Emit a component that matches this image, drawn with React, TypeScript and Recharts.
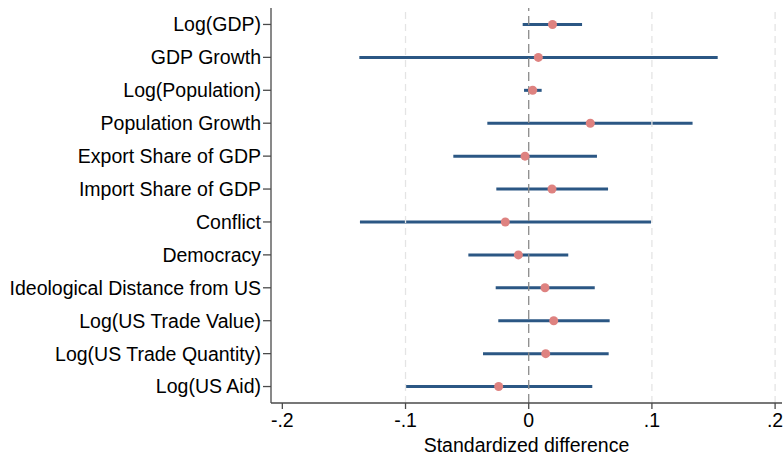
import {
  ComposedChart, XAxis, YAxis, Bar, Line, ReferenceLine,
} from 'recharts'

// covariates, top to bottom
const covariates = [
  'Log(GDP)',
  'GDP Growth',
  'Log(Population)',
  'Population Growth',
  'Export Share of GDP',
  'Import Share of GDP',
  'Conflict',
  'Democracy',
  'Ideological Distance from US',
  'Log(US Trade Value)',
  'Log(US Trade Quantity)',
  'Log(US Aid)',
]

// point estimates and 95% interval bounds
const estimates = [0.0193, 0.0078, 0.0032, 0.05, -0.003, 0.0189, -0.019, -0.0084, 0.0132, 0.0203, 0.0138, -0.0244]
const lower = [-0.0049, -0.1375, -0.0038, -0.0336, -0.0612, -0.0263, -0.137, -0.049, -0.0268, -0.0247, -0.0371, -0.1004]
const upper = [0.0433, 0.1534, 0.0105, 0.133, 0.0554, 0.0644, 0.0993, 0.0321, 0.0536, 0.0657, 0.0649, 0.0516]

const xTicks = [-0.2, -0.1, 0, 0.1, 0.2]
const gridLines = [-0.1, 0.1, 0.2]

const data = covariates.map((name, i) => ({
  name,
  est: estimates[i],
  ci: [lower[i], upper[i]],
}))

// stata-style tick labels: -.2, -.1, 0, .1, .2
const fmt = (v: number) => {
  if (v === 0) return '0'
  const s = String(Math.round(v * 10) / 10)
  return s.replace('0.', '.')
}

const FONT = '"Liberation Sans", Arial, sans-serif'

export default function App() {
  return (
    <div style={{ fontFamily: FONT }}>
      <style>{'body{margin:0}'}</style>
      <ComposedChart
        width={783}
        height={455}
        data={data}
        layout="vertical"
        margin={{ top: 8, right: 1, bottom: 0, left: 0 }}
      >
        <XAxis
          type="number"
          domain={[-0.2092, 0.2056]}
          ticks={xTicks}
          tickFormatter={fmt}
          allowDataOverflow
          height={52}
          tickSize={6}
          tickMargin={4}
          stroke="#4a4a4a"
          tick={{ fontSize: 19.5, fill: '#000', fontFamily: FONT }}
          axisLine={{ stroke: '#4a4a4a', strokeWidth: 1.3 }}
          tickLine={{ stroke: '#4a4a4a', strokeWidth: 1.3 }}
          label={{
            value: 'Standardized difference',
            position: 'insideBottom',
            offset: 3,
            fontSize: 19.5,
            fill: '#000',
            fontFamily: FONT,
          }}
        />
        <YAxis
          type="category"
          dataKey="name"
          scale="band"
          width={271}
          interval={0}
          tickSize={8}
          tickMargin={2}
          tick={{ fontSize: 19.5, fill: '#000', fontFamily: FONT }}
          axisLine={{ stroke: '#4a4a4a', strokeWidth: 1.3 }}
          tickLine={{ stroke: '#4a4a4a', strokeWidth: 1.3 }}
        />
        {gridLines.map(v => (
          <ReferenceLine key={v} x={v} stroke="#e4e4e4" strokeWidth={1.3} strokeDasharray="7 5" />
        ))}
        <ReferenceLine x={0} stroke="#8a8a8a" strokeWidth={1.3} strokeDasharray="9 5" />
        <Bar dataKey="ci" barSize={3} fill="#2b5784" isAnimationActive={false} />
        <Line
          dataKey="est"
          stroke="none"
          dot={{ r: 4.5, fill: '#de8280', stroke: 'none' }}
          activeDot={false}
          isAnimationActive={false}
        />
      </ComposedChart>
    </div>
  )
}
